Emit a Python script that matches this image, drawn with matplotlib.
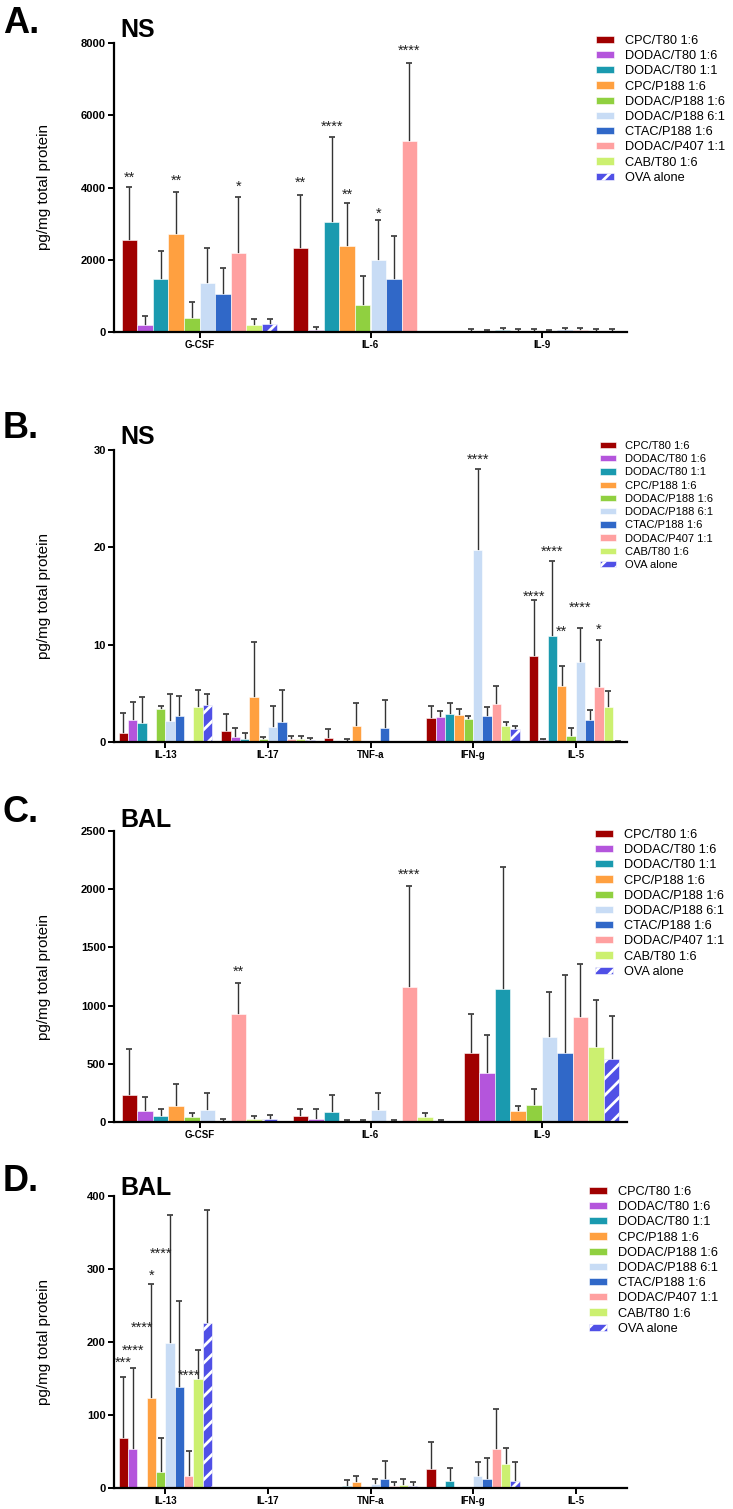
import numpy as np
import matplotlib
matplotlib.use('Agg')
import matplotlib.pyplot as plt

plt.rcParams['font.family'] = ['Liberation Sans', 'DejaVu Sans']
plt.rcParams['hatch.linewidth'] = 2.0

nan = np.nan

series = ['CPC/T80 1:6', 'DODAC/T80 1:6', 'DODAC/T80 1:1', 'CPC/P188 1:6', 'DODAC/P188 1:6',
          'DODAC/P188 6:1', 'CTAC/P188 1:6', 'DODAC/P407 1:1', 'CAB/T80 1:6', 'OVA alone']
colors = ['#a00000', '#b455dc', '#1a9aaf', '#ffa040', '#90d040',
          '#c8dcf5', '#3068c8', '#ffa0a0', '#ccf070', '#5050e6']

# A. NS
groups_a = ['G-CSF', 'IL-6', 'IL-9']
mean_a = [[2550, 200, 1460, 2700, 400, 1360, 1050, 2200, 180, 230],
          [2320, 60, 3050, 2390, 750, 2000, 1460, 5290, nan, nan],
          [30, 20, 50, 30, 40, 20, 50, 60, 30, 40]]
sd_a = [[1460, 240, 770, 1170, 440, 960, 730, 1550, 170, 120],
        [1470, 90, 2350, 1170, 800, 1100, 1190, 2150, nan, nan],
        [50, 40, 50, 40, 50, 40, 50, 50, 50, 30]]
sig_a = [(0, 0, '**', 4400), (0, 3, '**', 4300), (0, 7, '*', 4130), (1, 0, '**', 4240),
         (1, 2, '****', 5790), (1, 3, '**', 3930), (1, 5, '*', 3400), (1, 7, '****', 7900)]

# B. NS
groups_b = ['IL-13', 'IL-17', 'TNF-a', 'IFN-g', 'IL-5']
mean_b = [[0.9, 2.3, 2.0, nan, 3.4, 2.2, 2.7, nan, 3.6, 3.8],
          [1.1, 0.5, 0.3, 4.6, 0.3, 1.5, 2.1, 0.35, 0.3, 0.25],
          [0.4, nan, 0.1, 1.6, nan, nan, 1.4, nan, nan, nan],
          [2.5, 2.6, 2.9, 2.8, 2.4, 19.7, 2.7, 3.9, 1.6, 1.3],
          [8.8, 0.2, 10.9, 5.8, 0.6, 8.2, 2.3, 5.6, 3.6, 0.1]]
sd_b = [[2.1, 1.8, 2.6, nan, 0.3, 2.7, 2.0, nan, 1.7, 1.1],
        [1.8, 0.9, 0.6, 5.7, 0.2, 2.2, 3.2, 0.25, 0.3, 0.2],
        [0.9, nan, 0.2, 2.4, nan, nan, 2.9, nan, nan, nan],
        [1.2, 0.6, 1.1, 0.6, 0.3, 8.3, 0.9, 1.9, 0.5, 0.3],
        [5.8, 0.1, 7.7, 2.0, 0.8, 3.5, 1.0, 4.9, 1.6, 0.05]]
sig_b = [(3, 5, '****', 29.4), (4, 0, '****', 15.4), (4, 2, '****', 20.0),
         (4, 3, '**', 11.8), (4, 5, '****', 14.2), (4, 7, '*', 12.0)]

# C. BAL
groups_c = ['G-CSF', 'IL-6', 'IL-9']
mean_c = [[235, 95, 50, 140, 45, 100, 12, 925, 30, 30],
          [50, 30, 85, 10, 10, 100, 5, 1160, 45, 10],
          [595, 420, 1145, 95, 145, 730, 595, 900, 645, 540]]
sd_c = [[390, 120, 60, 186, 35, 150, 13, 270, 25, 30],
        [60, 85, 145, 10, 10, 150, 10, 870, 30, 5],
        [330, 330, 1045, 45, 135, 385, 670, 460, 405, 370]]
sig_c = [(0, 7, '**', 1330), (1, 7, '****', 2160)]

# D. BAL
groups_d = ['IL-13', 'IL-17', 'TNF-a', 'IFN-g', 'IL-5']
mean_d = [[68, 53, nan, 123, 22, 199, 138, 16, 149, 226],
          [nan] * 10,
          [nan, nan, 3, 8, nan, 6, 12, 3, 4.5, 3],
          [26, nan, 9, nan, nan, 16, 13, 53, 33, 10],
          [nan] * 10]
sd_d = [[84, 111, nan, 156, 47, 175, 118, 35, 40, 155],
        [nan] * 10,
        [nan, nan, 8, 9, nan, 7, 25, 5, 7.5, 5],
        [37, nan, 19, nan, nan, 20, 28, 55, 22, 25],
        [nan] * 10]
sig_d = [(0, 0, '***', 178), (0, 1, '****', 194), (0, 2, '****', 225),
         (0, 3, '*', 297), (0, 4, '****', 327), (0, 7, '****', 159)]

W, H = 733, 1509
fig = plt.figure(figsize=(W / 100, H / 100), dpi=100)


def panel(top, bottom, groups, mean, sd, sig, ymax, step, letter, let_y, title, tit_y, leg_x, leg_y, leg_fs, leg_sp):
    ax = fig.add_axes([114 / W, 1 - bottom / H, 513 / W, (bottom - top) / H])
    mean = np.array(mean, float)
    sd = np.array(sd, float)
    n = len(series)
    w = 0.091
    x = np.arange(len(groups))
    for i, name in enumerate(series):
        xs = x + (i - (n - 1) / 2) * w
        ok = ~np.isnan(mean[:, i])
        ax.bar(xs[ok], mean[ok, i], w, color=colors[i], edgecolor='white', linewidth=0.4,
               hatch='//' if i == n - 1 else None, label=name, zorder=2)
        eb = ax.errorbar(xs[ok], mean[ok, i], yerr=[np.zeros(ok.sum()), sd[ok, i]], fmt='none',
                         ecolor='#333333', elinewidth=1, capsize=2.5, capthick=1.2, zorder=1)
        eb.lines[1][0].set_visible(False)  # no cap at the bar top
    for g, s, txt, y in sig:
        ax.annotate(txt, (g + (s - (n - 1) / 2) * w, y), xytext=(0, -6), textcoords='offset points',
                    ha='center', va='baseline', fontsize=10.5, color='#222222')
    ax.set_xlim(-0.5, len(groups) - 0.5)
    ax.set_ylim(0, ymax)
    ax.set_yticks(np.arange(0, ymax + 1e-9, step))
    ax.set_xticks(x)
    ax.set_xticklabels(groups)
    ax.spines[['top', 'right']].set_visible(False)
    ax.spines[['left', 'bottom']].set_linewidth(1.6)
    ax.tick_params(axis='y', length=4, width=1.4, labelsize=8, pad=2)
    ax.tick_params(axis='x', length=4, width=1.4, labelsize=7, pad=2)
    for lbl in ax.get_xticklabels() + ax.get_yticklabels():
        lbl.set_fontweight('bold')
    fig.text(44 / W, 1 - (top + bottom) / 2 / H, 'pg/mg total protein', rotation=90,
             ha='center', va='center', fontsize=11)
    fig.text(3 / W, 1 - let_y / H, letter, fontsize=26, fontweight='bold', va='baseline')
    fig.text(120 / W, 1 - tit_y / H, title, fontsize=18, fontweight='bold', va='baseline')
    ax.legend(loc='upper left', bbox_to_anchor=(leg_x / W, 1 - leg_y / H), bbox_transform=fig.transFigure,
              frameon=False, fontsize=leg_fs, handlelength=1.4, handleheight=0.5, handletextpad=0.85,
              labelspacing=leg_sp, borderpad=0, borderaxespad=0)
    return ax


panel(43, 332, groups_a, mean_a, sd_a, sig_a, 8000, 2000, 'A.', 33, 'NS', 37, 596, 35, 9.2, 0.25)
panel(450, 742, groups_b, mean_b, sd_b, sig_b, 30, 10, 'B.', 438, 'NS', 444, 600, 441, 8, 0.29)
panel(831, 1122, groups_c, mean_c, sd_c, sig_c, 2500, 500, 'C.', 822, 'BAL', 827, 595, 829, 9.2, 0.25)
panel(1196, 1488, groups_d, mean_d, sd_d, sig_d, 400, 100, 'D.', 1191, 'BAL', 1195, 589, 1186, 9.2, 0.25)

fig.savefig('out.png', dpi=100)
